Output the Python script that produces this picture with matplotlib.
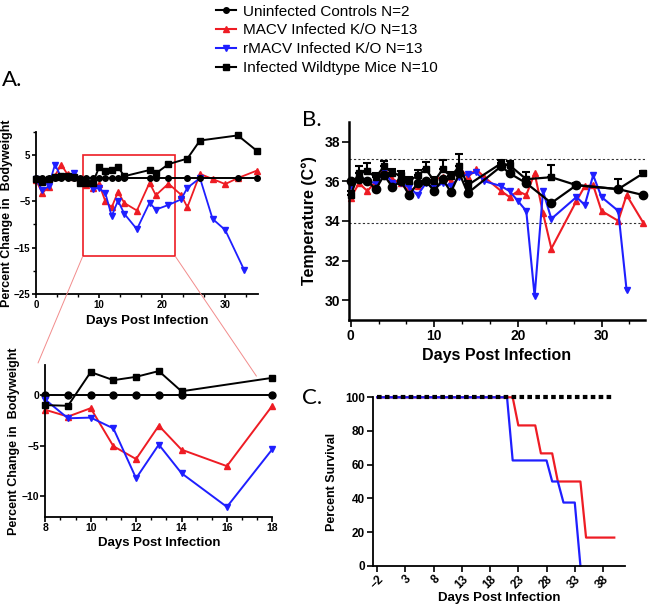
import numpy as np
import matplotlib
matplotlib.use('Agg')
import matplotlib.pyplot as plt
from matplotlib.lines import Line2D
from matplotlib.patches import Rectangle, ConnectionPatch
from matplotlib.ticker import MultipleLocator

plt.rcParams['font.family'] = ['Liberation Sans', 'DejaVu Sans']
plt.rcParams['font.weight'] = 'bold'
plt.rcParams['axes.labelweight'] = 'bold'
plt.rcParams['axes.linewidth'] = 1.3
plt.rcParams['xtick.major.width'] = 1.2
plt.rcParams['ytick.major.width'] = 1.2
plt.rcParams['xtick.minor.width'] = 1.0
plt.rcParams['ytick.minor.width'] = 1.0

RED = '#ee1c24'
BLUE = '#1f1fff'

labels = ['Uninfected Controls N=2', 'MACV Infected K/O N=13',
          'rMACV Infected K/O N=13', 'Infected Wildtype Mice N=10']

# A: percent change in bodyweight
bw_ctrl_days = [0, 1, 2, 3, 4, 5, 6, 7, 8, 9, 10, 11, 12, 13, 14, 18, 19, 21, 24, 26, 32, 35]
bw_ctrl = [0, 0, 0, 0, 0, 0, 0, 0, 0, 0, 0, 0, 0, 0, 0, 0, 0, 0, 0, 0, 0, 0]
bw_wt_days = [0, 1, 2, 3, 4, 5, 6, 7, 8, 9, 10, 11, 12, 13, 14, 18, 19, 21, 24, 26, 32, 35]
bw_wt = [-0.3, -0.8, -0.3, 0.3, 0.5, 0.4, 0.2, -1.0, -0.97, -1.03, 2.3, 1.5, 1.83, 2.4, 0.4,
         1.73, 1.0, 3.0, 4.2, 8.1, 9.2, 5.9]
bw_macv_days = [0, 1, 2, 3, 4, 5, 6, 7, 8, 9, 10, 11, 12, 13, 14, 16, 18, 19, 21, 23, 24, 26, 28, 30, 32, 35]
bw_macv = [-0.5, -3.2, -2.0, 0.5, 2.9, 0.8, 0.3, -0.3, -1.43, -2.1, -1.27, -5.03, -6.3, -3.0, -5.37,
           -7.0, -1.03, -3.7, -1.2, -3.6, -6.3, 0.9, -0.2, -1.3, 0.0, 1.6]
bw_rmacv_days = [0, 1, 2, 3, 4, 5, 6, 7, 8, 9, 10, 11, 12, 13, 14, 16, 18, 19, 21, 23, 24, 26, 28, 30, 33]
bw_rmacv = [-0.3, -2.6, -1.8, 2.9, 0.2, 0.3, 1.2, -0.5, -0.43, -2.27, -2.2, -3.27, -8.2, -4.87, -7.7,
            -11.03, -5.33, -6.8, -5.8, -4.6, -2.1, 0.0, -8.8, -11.2, -19.8]

# zoom window (days, percent)
zoom_x = (7.4, 22.1)
zoom_y = (-16.9, 5.0)

# B: temperature
t_ctrl_days = [0, 1, 2, 3, 4, 5, 6, 7, 8, 9, 10, 11, 12, 13, 14, 18, 19, 21, 24, 27, 32, 35]
t_ctrl = [36.0, 36.1, 36.0, 35.6, 36.3, 35.7, 36.0, 35.3, 35.9, 36.0, 35.5, 36.1, 35.45, 36.4, 35.4,
          36.75, 36.4, 35.9, 34.9, 35.8, 35.6, 35.3]
t_wt_days = [0, 1, 2, 3, 4, 5, 6, 7, 8, 9, 10, 11, 12, 13, 14, 18, 19, 21, 24, 27, 32, 35]
t_wt = [35.3, 36.4, 36.5, 36.2, 36.75, 36.4, 36.3, 36.0, 36.3, 36.6, 36.0, 36.6, 36.25, 36.75, 35.8,
        36.9, 36.8, 36.1, 36.2, 35.8, 35.6, 36.4]
t_wt_err = [0.2, 0.35, 0.4, 0.2, 0.25, 0.2, 0.2, 0.2, 0.25, 0.35, 0.2, 0.45, 0.2, 0.6, 0.2,
            0.15, 0.2, 0.35, 0.6, 0.1, 0.5, 0.1]
t_macv_days = [0, 1, 2, 3, 4, 5, 6, 7, 8, 9, 10, 11, 12, 13, 14, 15, 16, 18, 19, 20, 21, 22, 23, 24,
               27, 28, 29, 30, 32, 33, 35]
t_macv = [35.15, 35.9, 35.5, 36.0, 36.6, 36.1, 35.9, 35.5, 35.75, 36.0, 36.1, 36.2, 36.0, 36.7, 36.2,
          36.6, 36.2, 35.5, 35.2, 35.5, 35.3, 36.4, 34.4, 32.6, 35.0, 35.75, 35.8, 34.5, 34.0, 35.3, 33.9]
t_rmacv_days = [0, 1, 2, 3, 4, 5, 6, 7, 8, 9, 10, 11, 12, 13, 14, 15, 16, 18, 19, 20, 21, 22, 23, 24,
                27, 28, 29, 30, 32, 33]
t_rmacv = [35.75, 36.1, 36.0, 35.9, 36.5, 35.9, 35.9, 35.7, 35.3, 35.9, 35.65, 35.9, 35.75, 36.2, 36.35,
           36.45, 36.0, 35.75, 35.5, 35.0, 34.5, 30.2, 35.5, 34.1, 35.2, 34.8, 36.3, 35.2, 34.5, 30.5]
t_normal = [37.1, 33.9]

# C: survival
surv_ctrl_days = [-2, 40]
surv_ctrl = [100, 100]
surv_macv_days = [-2, 22, 23, 26, 27, 29, 30, 34, 35, 40]
surv_macv = [100, 100, 83.3, 83.3, 66.7, 66.7, 50, 50, 16.7, 16.7]
surv_rmacv_days = [-2, 21, 22, 28, 29, 30, 31, 33, 34]
surv_rmacv = [100, 100, 62.5, 62.5, 50, 50, 37.5, 37.5, 0]
surv_ticks = [-2, 3, 8, 13, 18, 23, 28, 33, 38]

W, H = 650, 609
fig = plt.figure(figsize=(6.5, 6.09), dpi=100)


def box(l, t, r, b):
    return [l / W, 1 - b / H, (r - l) / W, (b - t) / H]


def clean(ax):
    ax.spines['top'].set_visible(False)
    ax.spines['right'].set_visible(False)
    ax.tick_params(which='both', direction='out')
    for t in ax.get_xticklabels() + ax.get_yticklabels():
        t.set_fontweight('bold')


# ---- A top
ax1 = fig.add_axes(box(36, 131.7, 258, 294))
ax1.plot(bw_ctrl_days, bw_ctrl, '-o', color='black', ms=4, lw=1.4, clip_on=False, zorder=3)
ax1.plot(bw_macv_days, bw_macv, '-^', color=RED, ms=4, lw=1.3, clip_on=False)
ax1.plot(bw_rmacv_days, bw_rmacv, '-v', color=BLUE, ms=4, lw=1.3, clip_on=False)
ax1.plot(bw_wt_days, bw_wt, '-s', color='black', ms=4, lw=1.4, clip_on=False)
ax1.set_xlim(0, 35.2)
ax1.set_ylim(-25, 10)
ax1.set_xticks([0, 10, 20, 30])
ax1.xaxis.set_minor_locator(MultipleLocator(10 / 3))
ax1.set_yticks([-25, -15, -5, 5])
ax1.set_yticks([-20, -10, 0, 10], minor=True)
ax1.tick_params(labelsize=7, length=3, pad=1)
ax1.tick_params(which='minor', length=2)
clean(ax1)
ax1.set_ylabel('Percent Change in  Bodyweight', fontsize=9)
ax1.yaxis.set_label_coords(-0.104, 0.5)
ax1.set_xlabel('Days Post Infection', fontsize=9.5)
ax1.xaxis.set_label_coords(0.5, -0.13)
ax1.add_patch(Rectangle((zoom_x[0], zoom_y[0]), zoom_x[1] - zoom_x[0], zoom_y[1] - zoom_y[0],
                        fill=False, edgecolor=RED, lw=1.2, zorder=1))

# ---- A zoomed
ax2 = fig.add_axes(box(45.3, 365, 272.3, 516.7))
for days, vals, style, col in [(bw_ctrl_days, bw_ctrl, '-o', 'black'),
                               (bw_macv_days, bw_macv, '-^', RED),
                               (bw_rmacv_days, bw_rmacv, '-v', BLUE),
                               (bw_wt_days, bw_wt, '-s', 'black')]:
    d = np.array(days)
    v = np.array(vals)
    keep = (d >= 8) & (d <= 18)
    ax2.plot(d[keep], v[keep], style, color=col, ms=5, lw=1.4, clip_on=False)
ax2.set_xlim(8, 18)
ax2.set_ylim(-12, 3)
ax2.set_xticks([8, 10, 12, 14, 16, 18])
ax2.xaxis.set_minor_locator(MultipleLocator(2 / 3))
ax2.set_yticks([-10, -5, 0])
ax2.tick_params(labelsize=7.5, length=3.5, pad=1)
ax2.tick_params(which='minor', length=2)
clean(ax2)
ax2.set_ylabel('Percent Change in  Bodyweight', fontsize=9)
ax2.yaxis.set_label_coords(-0.112, 0.5)
ax2.set_xlabel('Days Post Infection', fontsize=9.5)
ax2.xaxis.set_label_coords(0.5, -0.134)

for xa, xb in [(zoom_x[0], 7.68), (zoom_x[1], 17.3)]:
    yb = 3.2 if xb < 8 else 1.9
    con = ConnectionPatch(xyA=(xa, zoom_y[0]), coordsA=ax1.transData,
                          xyB=(xb, yb), coordsB=ax2.transData,
                          color='#f28c8c', lw=0.7)
    fig.add_artist(con)

# ---- B temperature
ax3 = fig.add_axes(box(349, 121.7, 645, 320))
for lvl in t_normal:
    ax3.axhline(lvl, color='#333333', lw=0.8, ls=(0, (2, 2)), zorder=1)
ax3.plot(t_macv_days, t_macv, '-^', color=RED, ms=5, lw=1.5, clip_on=False)
ax3.plot(t_rmacv_days, t_rmacv, '-v', color=BLUE, ms=5, lw=1.5, clip_on=False)
ax3.errorbar(t_wt_days, t_wt, yerr=[np.zeros(len(t_wt_err)), t_wt_err], fmt='-s', color='black',
             ms=5, lw=1.6, elinewidth=1.5, capsize=3, capthick=1.5, clip_on=False)
ax3.plot(t_ctrl_days, t_ctrl, '-o', color='black', ms=6, lw=1.6, clip_on=False)
ax3.set_xlim(-0.2, 35.2)
ax3.set_ylim(29, 39)
ax3.set_xticks([0, 10, 20, 30])
ax3.xaxis.set_minor_locator(MultipleLocator(10 / 3))
ax3.set_yticks([30, 32, 34, 36, 38])
ax3.tick_params(labelsize=10, length=5, pad=1.5)
ax3.tick_params(which='minor', length=3)
clean(ax3)
ax3.spines['left'].set_linewidth(1.8)
ax3.spines['bottom'].set_linewidth(1.8)
ax3.set_ylabel('Temperature (C°)', fontsize=11.5)
ax3.yaxis.set_label_coords(-0.108, 0.5)
ax3.set_xlabel('Days Post Infection', fontsize=11.5)
ax3.xaxis.set_label_coords(0.5, -0.14)

# ---- C survival
ax4 = fig.add_axes(box(372.7, 397.3, 625, 565.7))
ax4.plot(surv_macv_days, surv_macv, '-', color=RED, lw=1.6, clip_on=False)
ax4.plot(surv_rmacv_days, surv_rmacv, '-', color=BLUE, lw=1.6, clip_on=False)
ax4.plot(surv_ctrl_days, surv_ctrl, color='black', lw=3, ls=(0, (1.1, 0.8)), clip_on=False)
ax4.set_xlim(-2.8, 41.9)
ax4.set_ylim(0, 100)
ax4.set_xticks(surv_ticks)
ax4.set_yticks([0, 20, 40, 60, 80, 100])
ax4.tick_params(labelsize=8.5, length=4, pad=1.5)
clean(ax4)
plt.setp(ax4.get_xticklabels(), rotation=45, ha='right', rotation_mode='anchor')
ax4.set_ylabel('Percent Survival', fontsize=9)
ax4.yaxis.set_label_coords(-0.1375, 0.5)
ax4.set_xlabel('Days Post Infection', fontsize=9.5)
ax4.xaxis.set_label_coords(0.5, -0.156)

# panel letters
for txt, px, py in [('A.', 2, 70), ('B.', 302, 110), ('C.', 302, 388)]:
    fig.text(px / W, 1 - py / H, txt, fontsize=16, family=['Lato', 'DejaVu Sans'],
             fontweight='normal', va='top', ha='left')

# legend
handles = [Line2D([], [], color='black', marker='o', ms=4, lw=1.5),
           Line2D([], [], color=RED, marker='^', ms=4, lw=1.5),
           Line2D([], [], color=BLUE, marker='v', ms=4, lw=1.5),
           Line2D([], [], color='black', marker='s', ms=4, lw=1.5)]
fig.legend(handles, labels, loc='upper left', bbox_to_anchor=(208 / W, 1.005), frameon=False,
           prop={'family': 'Liberation Sans', 'weight': 'normal', 'size': 11},
           handlelength=1.3, handletextpad=0.5, labelspacing=0.32, borderpad=0)

fig.savefig('out.png', dpi=100)
